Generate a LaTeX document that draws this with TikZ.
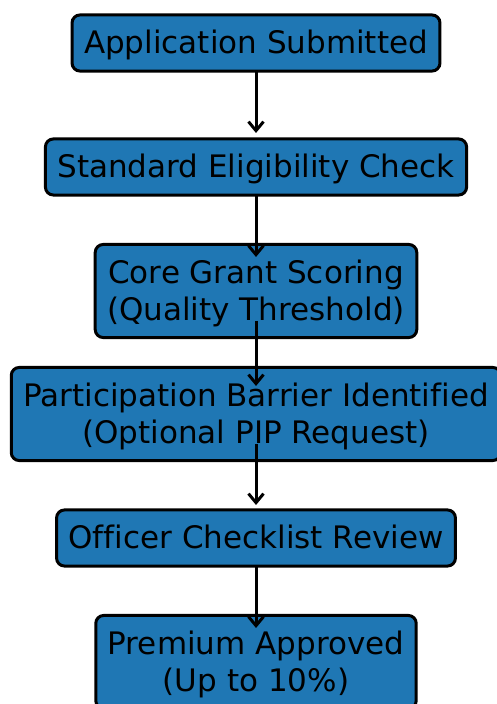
\documentclass[tikz,border=0pt]{standalone}
\usepackage{fontspec}
\setmainfont[Ligatures=NoCommon]{DejaVu Sans}
\usetikzlibrary{arrows.meta}
\definecolor{boxblue}{HTML}{1F77B4}
\newcommand{\bstrut}{\rule[-7.3pt]{0pt}{36.1pt}}
\tikzset{
  flowbox/.style={draw=black,line width=3pt,fill=boxblue,rounded corners=8pt,align=center,inner xsep=12pt,inner ysep=10pt,font=\fontsize{31}{37}\selectfont},
  flowarrow/.style={line width=3pt,-{Straight Barb[length=9pt,width=15pt]}}
}
\begin{document}
\begin{tikzpicture}[x=1pt,y=1pt]
                \useasboundingbox (0,0) rectangle (496,704);
                \node[flowbox] (submitted) at (256,661) {\bstrut Application Submitted};
                \node[flowbox] (eligibility) at (256,537) {\bstrut Standard Eligibility Check};
                \node[flowbox] (scoring) at (256,413) {\bstrut Core Grant Scoring\\\bstrut (Quality Threshold)};
                \node[flowbox] (barrier) at (256,290) {\bstrut Participation Barrier Identified\\\bstrut (Optional PIP Request)};
                \node[flowbox] (checklist) at (256,166) {\bstrut Officer Checklist Review};
                \node[flowbox] (premium) at (256,42) {\bstrut Premium Approved\\\bstrut (Up to 10\%)};
                \draw[flowarrow] ([yshift=-28pt]submitted.center) -- ([yshift=34pt]eligibility.center);
                \draw[flowarrow] ([yshift=-28pt]eligibility.center) -- ([yshift=34pt]scoring.center);
                \draw[flowarrow] ([yshift=-30pt]scoring.center) -- ([yshift=28pt]barrier.center);
                \draw[flowarrow] ([yshift=-30pt]barrier.center) -- ([yshift=33pt]checklist.center);
                \draw[flowarrow] ([yshift=-28pt]checklist.center) -- ([yshift=34pt]premium.center);
            \end{tikzpicture}
\end{document}
